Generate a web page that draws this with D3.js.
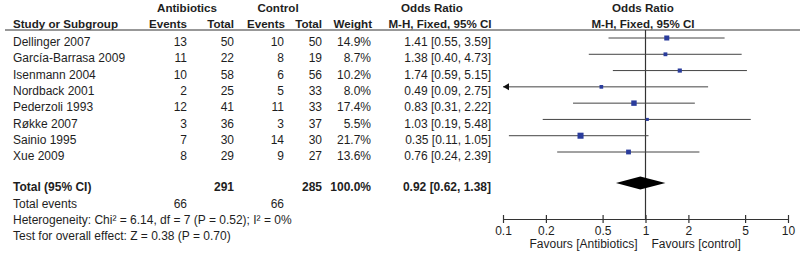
<!DOCTYPE html>
<html lang="en">
<head>
  <meta charset="UTF-8">
  <title>Forest plot</title>
  <script src="https://d3js.org/d3.v7.min.js"></script>
  <style>
    body { margin: 0; background: #fff; }
    text { font-family: "Liberation Sans", Arial, sans-serif; font-size: 12px; fill: #1e1e1e; }
    .bold { font-weight: bold; }
    .head { font-size: 11.6px; }
  </style>
</head>
<body>
  <div id="my_dataviz"></div>
  <script>
    // study data
    const studies = ["Dellinger 2007", "García-Barrasa 2009", "Isenmann 2004", "Nordback 2001",
      "Pederzoli 1993", "Røkke 2007", "Sainio 1995", "Xue 2009"];
    const abEvents = [13, 11, 10, 2, 12, 3, 7, 8];
    const abTotal = [50, 22, 58, 25, 41, 36, 30, 29];
    const ctEvents = [10, 8, 6, 5, 11, 3, 14, 9];
    const ctTotal = [50, 19, 56, 33, 33, 37, 30, 27];
    const weights = [14.9, 8.7, 10.2, 8.0, 17.4, 5.5, 21.7, 13.6];
    const oddsRatio = [1.41, 1.38, 1.74, 0.49, 0.83, 1.03, 0.35, 0.76];
    const ciLow = [0.55, 0.40, 0.59, 0.09, 0.31, 0.19, 0.11, 0.24];
    const ciHigh = [3.59, 4.73, 5.15, 2.75, 2.22, 5.48, 1.05, 2.39];

    // pooled result
    const totalAb = 291, totalCt = 285, totalEventsAb = 66, totalEventsCt = 66;
    const pooled = { or: 0.92, lo: 0.62, hi: 1.38 };
    const axisTicks = [0.1, 0.2, 0.5, 1, 2, 5, 10];

    const width = 800, height = 253;
    const svg = d3.select("#my_dataviz")
      .append("svg")
      .attr("width", width)
      .attr("height", height);

    const x = d3.scaleLog().domain([0.1, 10]).range([503, 788]);
    const y = d3.scaleLinear().domain([0, 7]).range([38, 152]);
    const yDiamond = 183, yAxis = 219;
    const textOff = 4;
    const yTotal = yDiamond + textOff, yEvents = 204, yHet = 220, yTest = 236;

    // column right edges
    const col = { study: 13, abE: 187, abT: 234, ctE: 284, ctT: 322, w: 371, ci: 491 };

    const fmt2 = d3.format(".2f");
    const ciText = (o, l, h) => `${fmt2(o)} [${fmt2(l)}, ${fmt2(h)}]`;

    function label(txt, xp, yp, anchor, cls) {
      svg.append("text")
        .attr("x", xp).attr("y", yp)
        .attr("dy", "0.35em")
        .attr("text-anchor", anchor || "start")
        .attr("class", cls || null)
        .text(txt);
    }

    // headers
    const hc = "bold head";
    label("Antibiotics", 187, 8, "middle", hc);
    label("Control", 278, 8, "middle", hc);
    label("Odds Ratio", 432, 8, "middle", hc);
    label("Odds Ratio", 643, 8, "middle", hc);
    label("Study or Subgroup", col.study, 24, "start", hc);
    label("Events", col.abE, 24, "end", hc);
    label("Total", col.abT, 24, "end", hc);
    label("Events", 285, 24, "end", hc);
    label("Total", col.ctT, 24, "end", hc);
    label("Weight", col.w + 1, 24, "end", hc);
    label("M-H, Fixed, 95% CI", 440, 24, "middle", hc);
    label("M-H, Fixed, 95% CI", 643, 24, "middle", hc);

    svg.append("line")
      .attr("x1", 5).attr("x2", 800)
      .attr("y1", 30).attr("y2", 30)
      .attr("stroke", "#333").attr("stroke-width", 1.2);

    // study rows
    studies.forEach((s, i) => {
      const yy = y(i) + textOff;
      label(s, col.study, yy);
      label(abEvents[i], col.abE, yy, "end");
      label(abTotal[i], col.abT, yy, "end");
      label(ctEvents[i], col.ctE, yy, "end");
      label(ctTotal[i], col.ctT, yy, "end");
      label(weights[i].toFixed(1) + "%", col.w, yy, "end");
      label(ciText(oddsRatio[i], ciLow[i], ciHigh[i]), col.ci, yy, "end");
    });

    // total rows
    label("Total (95% CI)", col.study, yTotal, "start", "bold");
    label(totalAb, col.abT, yTotal, "end", "bold");
    label(totalCt, col.ctT, yTotal, "end", "bold");
    label("100.0%", col.w, yTotal, "end", "bold");
    label(ciText(pooled.or, pooled.lo, pooled.hi), col.ci, yTotal, "end", "bold");
    label("Total events", col.study, yEvents);
    label(totalEventsAb, col.abE, yEvents, "end");
    label(totalEventsCt, col.ctE, yEvents, "end");
    label("Heterogeneity: Chi² = 6.14, df = 7 (P = 0.52); I² = 0%", col.study, yHet);
    label("Test for overall effect: Z = 0.38 (P = 0.70)", col.study, yTest);

    // null line
    svg.append("line")
      .attr("x1", x(1)).attr("x2", x(1))
      .attr("y1", 30).attr("y2", yAxis)
      .attr("stroke", "#333").attr("stroke-width", 1.2);

    // CI lines
    const clampLo = d => Math.max(d, 0.1);
    svg.selectAll("ciLines")
      .data(studies.map((s, i) => i))
      .join("line")
      .attr("x1", i => x(clampLo(ciLow[i])))
      .attr("x2", i => x(Math.min(ciHigh[i], 10)))
      .attr("y1", i => y(i)).attr("y2", i => y(i))
      .attr("stroke", "#444").attr("stroke-width", 1);

    // arrow heads for truncated CIs
    studies.forEach((s, i) => {
      if (ciLow[i] < 0.1) {
        const ax = x(0.1), ay = y(i);
        svg.append("path")
          .attr("d", `M${ax},${ay} L${ax + 6},${ay - 3.5} L${ax + 6},${ay + 3.5} Z`)
          .attr("fill", "#111");
      }
    });

    // weighted boxes
    const side = i => 1.3 * Math.sqrt(weights[i]);
    svg.selectAll("boxes")
      .data(studies.map((s, i) => i))
      .join("rect")
      .attr("x", i => x(oddsRatio[i]) - side(i) / 2)
      .attr("y", i => y(i) - side(i) / 2)
      .attr("width", side)
      .attr("height", side)
      .attr("fill", "#2a3c9c");

    // pooled diamond
    svg.append("path")
      .attr("d", `M${x(pooled.lo)},${yDiamond} L${x(pooled.or)},${yDiamond - 6.5} L${x(pooled.hi)},${yDiamond} L${x(pooled.or)},${yDiamond + 6.5} Z`)
      .attr("fill", "#000");

    // axis
    const axis = svg.append("g")
      .attr("transform", `translate(0,${yAxis})`)
      .call(d3.axisBottom(x).tickValues(axisTicks).tickFormat(d3.format("")).tickSize(0).tickPadding(7));
    axis.select(".domain").attr("stroke", "#333").attr("stroke-width", 1.2);
    axis.selectAll(".tick text")
      .style("font-family", "Liberation Sans, Arial, sans-serif")
      .style("font-size", "12px").attr("fill", "#1e1e1e");
    axis.selectAll(".tick line").remove();
    axis.selectAll(".tick").append("line")
      .attr("y1", -4).attr("y2", 4)
      .attr("stroke", "#333").attr("stroke-width", 1.2);

    label("Favours [Antibiotics]", x(1) - 8, 244, "end");
    label("Favours [control]", x(1) + 6, 244, "start");
  </script>
</body>
</html>
